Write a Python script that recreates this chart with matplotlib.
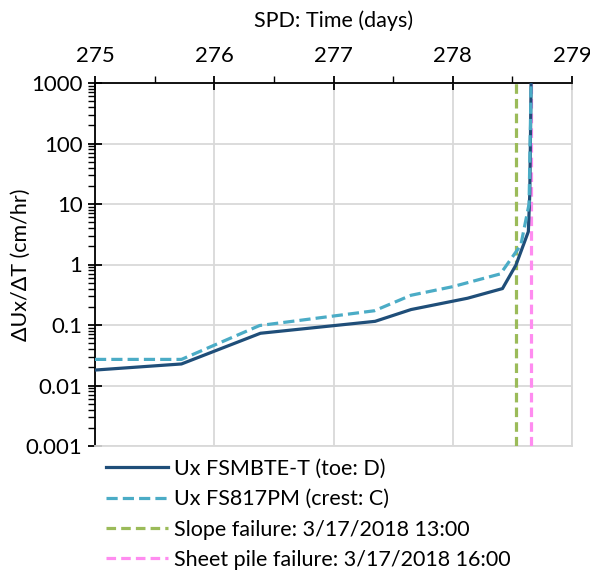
import numpy as np
import matplotlib.pyplot as plt
from matplotlib.ticker import LogLocator, FixedLocator, NullFormatter

# toe inclinometer (FSMBTE-T)
toe_days = [275.0, 275.725, 276.387, 277.349, 277.65, 278.124, 278.417, 278.53, 278.634, 278.646, 278.657]
toe_rate = [0.018, 0.0227, 0.073, 0.115, 0.18, 0.277, 0.40, 0.98, 3.5, 15.0, 1000.0]

# crest inclinometer (FS817PM)
crest_days = [275.0, 275.725, 276.38, 277.343, 277.65, 277.999, 278.40, 278.571, 278.64, 278.657]
crest_rate = [0.027, 0.027, 0.098, 0.172, 0.31, 0.43, 0.70, 2.1, 10.0, 1000.0]

slope_fail = 278.534
pile_fail = 278.659

labels = ['Ux FSMBTE-T (toe: D)', 'Ux FS817PM (crest: C)',
          'Slope failure: 3/17/2018 13:00', 'Sheet pile failure: 3/17/2018 16:00']

plt.rcParams['font.family'] = ['Lato', 'DejaVu Sans']

fig = plt.figure(figsize=(5.9, 5.78), dpi=100)
ax = fig.add_axes([95 / 590, 1 - 446 / 578, (572 - 95) / 590, (446 - 83) / 578])

ax.plot(toe_days, toe_rate, color='#1F4E79', lw=2.3, label=labels[0], zorder=4)
ax.plot(crest_days, crest_rate, color='#4BACC6', lw=2.3, ls=(0, (3.5, 1.6)), label=labels[1], zorder=5)
ax.axvline(slope_fail, color='#9BBB59', lw=2.3, ls=(0, (3, 1.6)), label=labels[2], zorder=3)
ax.axvline(pile_fail, color='#FF8CF0', lw=2.3, ls=(0, (3, 1.6)), label=labels[3], zorder=3)

ax.set_yscale('log')
ax.set_xlim(275, 279)
ax.set_ylim(0.001, 1000)

ax.xaxis.tick_top()
ax.xaxis.set_label_position('top')
ax.set_xticks([275, 276, 277, 278, 279])
ax.xaxis.set_minor_locator(FixedLocator([275.5, 276.5, 277.5, 278.5]))
ax.set_xlabel('SPD: Time (days)', fontsize=15.5, labelpad=14)
ax.set_ylabel('ΔUx/ΔT (cm/hr)', fontsize=15.5)
ax.yaxis.set_label_coords(-0.134, 0.5)

ax.set_yticks([0.001, 0.01, 0.1, 1, 10, 100, 1000])
ax.set_yticklabels(['0.001', '0.01', '0.1', '1', '10', '100', '1000'])
ax.yaxis.set_minor_locator(LogLocator(base=10, subs=np.arange(2, 10), numticks=20))
ax.yaxis.set_minor_formatter(NullFormatter())

ax.tick_params(axis='both', which='major', labelsize=16, direction='inout', length=10, width=1.3, color='black')
ax.tick_params(axis='both', which='minor', direction='out', length=5, width=1.0, color='black')
ax.tick_params(axis='x', which='major', pad=7)
ax.tick_params(axis='y', which='major', pad=4)

ax.grid(True, which='major', color='#D9D9D9', lw=1.3)
ax.set_axisbelow(True)
for side in ['top', 'left']:
    ax.spines[side].set_color('black')
    ax.spines[side].set_linewidth(1.3)
for side in ['bottom', 'right']:
    ax.spines[side].set_color('#D9D9D9')
    ax.spines[side].set_linewidth(1.3)

ax.legend(loc='upper left', bbox_to_anchor=(106 / 590, 1 - 459 / 578), bbox_transform=fig.transFigure,
          frameon=False, fontsize=15.5, handlelength=2.9, handletextpad=0.25, labelspacing=0.48,
          borderaxespad=0, borderpad=0)

fig.savefig('out.png', dpi=100)
